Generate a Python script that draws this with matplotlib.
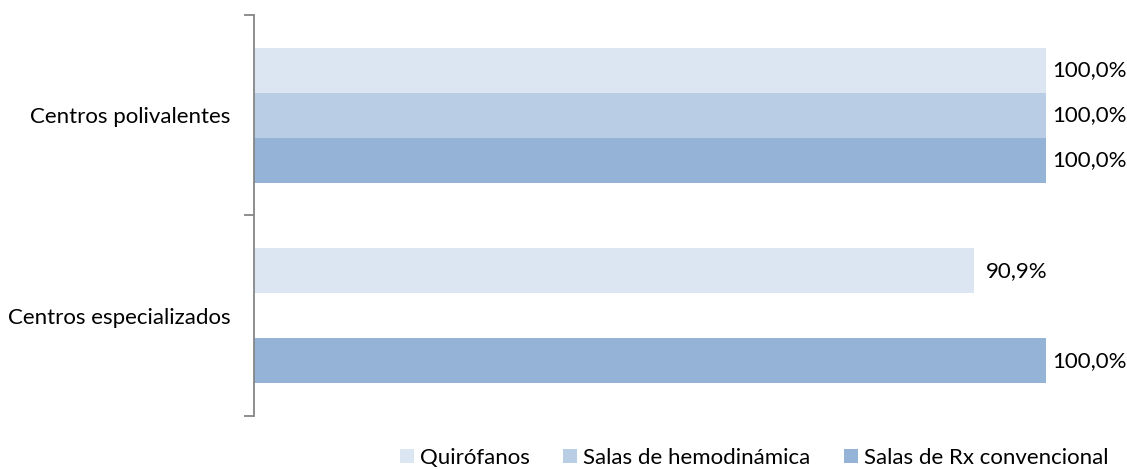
import numpy as np
import matplotlib
matplotlib.use("Agg")
import matplotlib.pyplot as plt

plt.rcParams["font.family"] = ["Lato", "DejaVu Sans"]

categories = ["Centros polivalentes", "Centros especializados"]
series = ["Quirófanos", "Salas de hemodinámica", "Salas de Rx convencional"]
quirofanos = [100.0, 90.9]
hemodinamica = [100.0, np.nan]
rx_convencional = [100.0, 100.0]
colors = ["#DCE6F2", "#B9CDE5", "#95B3D7"]

fig = plt.figure(figsize=(11.27, 4.69), dpi=100)
ax = fig.add_axes([254 / 1127, 53 / 469, 792 / 1127, 401 / 469])

y = np.arange(len(categories))
h = 0.224
for j, (name, vals, col) in enumerate(zip(series, [quirofanos, hemodinamica, rx_convencional], colors)):
    pos = y + (j - 1) * h
    ax.barh(pos, vals, height=h, color=col, label=name)
    for p, v in zip(pos, vals):
        if not np.isnan(v):
            ax.annotate(f"{v:.1f}%".replace(".", ","), (v, p), xytext=(31, 0),
                        textcoords="offset points", va="center", ha="center",
                        fontsize=16, color="#000000", annotation_clip=False)

ax.set_xlim(0, 100)
ax.set_ylim(len(categories) - 0.5, -0.5)
ax.xaxis.set_visible(False)
for s in ["top", "right", "bottom"]:
    ax.spines[s].set_visible(False)
ax.spines["left"].set_color("#868686")
ax.spines["left"].set_linewidth(1.3)

ax.set_yticks(np.arange(-0.5, len(categories)))
ax.set_yticklabels([])
ax.tick_params(axis="y", which="major", length=7, width=1.3, color="#868686")
ax.set_yticks(y, minor=True)
ax.set_yticklabels(categories, minor=True, fontsize=16)
ax.tick_params(axis="y", which="minor", length=0, pad=17)

handles, labels = ax.get_legend_handles_labels()
fig.legend(handles, labels, loc="lower right", bbox_to_anchor=(1128 / 1127, -0.04), ncol=3,
           frameon=False, fontsize=16, handlelength=0.65, handleheight=0.65,
           handletextpad=0.25, columnspacing=1.5)

fig.savefig("out.png", dpi=100)
